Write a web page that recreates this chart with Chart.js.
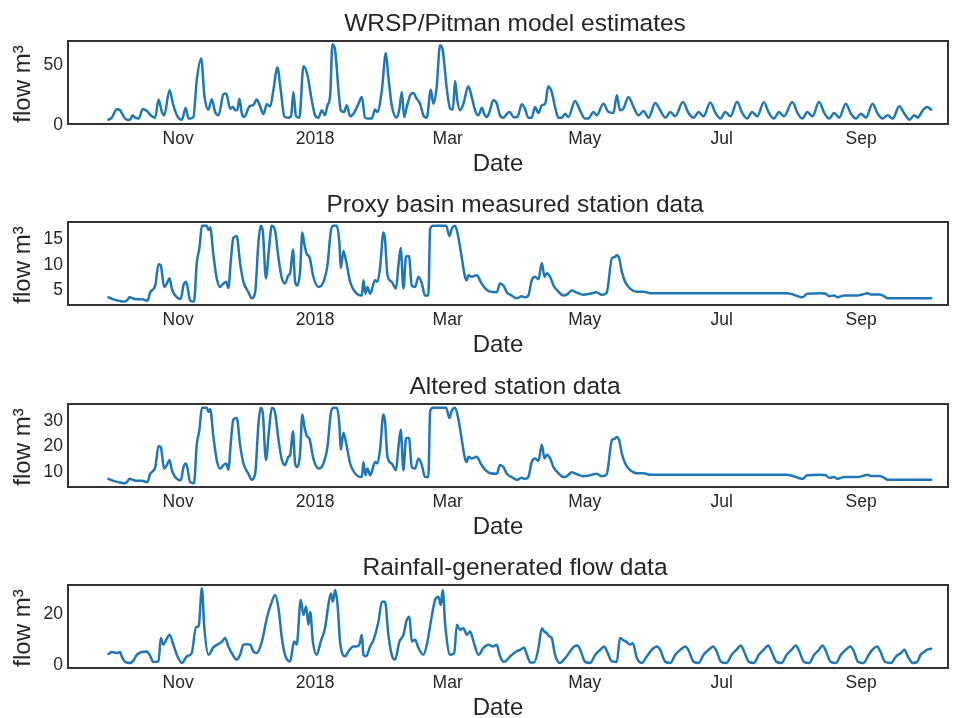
<!DOCTYPE html>
<html>
<head>
<meta charset="utf-8">
<script src="https://cdn.jsdelivr.net/npm/chart.js@4.4.1/dist/chart.umd.min.js"></script>
<style>
  html, body { margin: 0; padding: 0; background: #ffffff; }
  #wrap { position: relative; width: 960px; height: 718px; overflow: hidden; background: #ffffff; }
  #wrap canvas { position: absolute; left: 0; }
</style>
</head>
<body>
<div id="wrap">
  <canvas id="c0" width="960" height="181" style="top:0px"></canvas>
  <canvas id="c1" width="960" height="181" style="top:181px"></canvas>
  <canvas id="c2" width="960" height="181" style="top:363px"></canvas>
  <canvas id="c3" width="960" height="181" style="top:544px"></canvas>
</div>
<script>
// ---- x axis: days since 1 Oct 2017 ----
const monthTickDays = [31, 92, 151, 212, 273, 335];
const monthTickLabels = ['Nov', '2018', 'Mar', 'May', 'Jul', 'Sep'];

const panelTitles = [
  'WRSP/Pitman model estimates',
  'Proxy basin measured station data',
  'Altered station data',
  'Rainfall-generated flow data'
];
const xAxisTitle = 'Date';
const yAxisTitle = 'flow m³';

// ---- WRSP/Pitman model estimates ----
const wrspDays = [
  0, 1.5, 3.7, 5.2, 6.7, 8.2, 9.7, 10.7, 11.9, 13.4,
  15.3, 17.1, 19.3, 20.8, 22.3, 23.8, 24.8, 27.2, 28.9, 30.7,
  32.7, 34.4, 35.6, 37.8, 39.3, 41.3, 42.7, 44.5, 46, 47.5,
  49, 51.2, 52.4, 54.2, 55.4, 56.4, 57.4, 58.3, 59.4, 60.4,
  62.8, 64.5, 66, 67.5, 69, 70.5, 72, 73.4, 75.2, 76.7,
  78.3, 80.1, 81.3, 82.3, 83.5, 85, 86.8, 88.6, 90.5, 92,
  93.5, 95, 96.4, 97.5, 98.7, 99.7, 100.9, 102.4, 103.4, 104.9,
  106.1, 107.6, 109.3, 111.3, 112.8, 114.2, 115.7, 117.2, 118.7, 119.7,
  121.7, 123.5, 124.6, 126.1, 128.3, 129.4, 130.6, 131.6, 132.8, 134.3,
  135.7, 137.2, 138.7, 140.2, 141.7, 143.5, 144.6, 146.1, 147.6, 148.8,
  150.6, 152.1, 153.3, 154.3, 155.3, 156.5, 158, 160.2, 161.7, 163.2,
  164.7, 166.2, 167.2, 168.4, 169.6, 171.3, 172.9, 174.3, 175.8, 177.3,
  178.5, 180.5, 182, 184, 185.4, 186.9, 188.4, 189.9, 191.4, 192.9,
  194.4, 195.8, 197.3, 198.8, 200.3, 201.8, 203.3, 204.7, 207.7, 209.9,
  212.2, 213.6, 215.9, 217.3, 220.3, 222.6, 224.8, 226.3, 227.7, 229.2,
  231.5, 233.7, 235.9, 238.2, 240.4, 243.4, 245.6, 247.9, 250.1, 252.3,
  255.7, 258.2, 260.5, 262.7, 264.9, 267.9, 270.2, 272.4, 274.6, 276.9,
  279.8, 282.1, 284.3, 286.5, 288.8, 291.7, 294, 296.2, 298.5, 300.7,
  304.4, 306.7, 308.9, 311.1, 313.4, 316.3, 318.6, 320.8, 323, 325.3,
  328.2, 330.5, 332.7, 334.9, 337.2, 340.1, 342.4, 344.6, 346.8, 349.1,
  352, 354.3, 356.5, 358.7, 360.2, 362.5, 364.4, 366.2
];
const wrspFlow = [
  3.3, 5, 11.9, 11.1, 6.1, 3.3, 3.3, 6.9, 5, 4.2,
  12.2, 10.5, 6.1, 5, 20, 9.7, 6.9, 27.7, 15.3, 6.1,
  3.3, 13.3, 4.2, 5.5, 36, 54.2, 23.6, 11.7, 20.3, 9.7,
  6.9, 24.4, 25, 12.5, 13.9, 11.1, 11.7, 20.8, 8.3, 5.5,
  14.4, 15.5, 20, 14.4, 7.8, 16.1, 14.4, 27.7, 46.7, 27.7,
  6.1, 5, 6.1, 26.4, 6.1, 5, 47.8, 40.3, 19.4, 6.9,
  5, 11.1, 6.9, 15.3, 23.6, 66.1, 61.1, 27.7, 11.1, 9.7,
  15.3, 6.1, 8.9, 16.6, 22.2, 5, 4.2, 4.2, 11.7, 9.7,
  27.7, 58.9, 38.9, 15.3, 5, 11.1, 26.4, 5.5, 13.9, 23.6,
  25.6, 20.8, 16.6, 6.9, 5, 28.3, 16.6, 30.5, 65.3, 61.1,
  29.1, 12.5, 11.7, 35.5, 19.4, 11.1, 16.6, 31.1, 22.2, 11.1,
  6.9, 13.3, 8.3, 5.5, 9.7, 19.4, 16.6, 6.9, 5, 8,
  9.7, 5.3, 5.5, 16.1, 12.5, 5, 5, 13.9, 8.9, 15.3,
  16.6, 31.1, 26.4, 13.9, 5, 5, 8.3, 5.5, 18.9, 11.1,
  4.2, 4.2, 9.7, 6.9, 16.6, 9.7, 8.9, 23.6, 11.1, 12.5,
  22.2, 13.9, 6.9, 10.5, 5, 17.2, 11.1, 5, 9.7, 6.1,
  18, 8.9, 5, 9.7, 6.1, 17.6, 8.9, 4.2, 9.7, 6.1,
  18.2, 8.9, 4.2, 9.7, 6.1, 17.8, 8.9, 4.2, 9.7, 6.1,
  18, 8.9, 4.2, 9.7, 6.1, 18, 8.9, 4.2, 8.9, 5,
  16.6, 8.3, 4.2, 8.3, 5, 16.6, 8.3, 4.2, 6.9, 4.2,
  14.4, 8.3, 3.3, 6.9, 5, 11.1, 13.9, 11.7
];
const wrspYTicks = [0, 50];

// ---- Proxy basin measured station data (days shared with altered data) ----
const stationDays = [
  0, 2.2, 4.5, 6.7, 8.2, 9.4, 10.9, 12.6, 14.9, 17.4,
  18.6, 20.8, 22.3, 23.3, 24.8, 26, 27.2, 28.2, 29.7, 31.2,
  32.2, 33.4, 34.6, 36.4, 38.1, 39.3, 40.5, 41.6, 43.8, 44.5,
  45.3, 46.7, 48.2, 49.7, 51.2, 52.4, 53.4, 54.5, 55.6, 57.1,
  58.6, 60.1, 62.3, 63.8, 65.3, 66.8, 67.8, 68.7, 70.1, 71.5,
  72.7, 74.2, 75.7, 77.2, 78.6, 80.1, 80.9, 82.1, 83.1, 84.1,
  85.3, 86.3, 87.2, 88.3, 89.5, 91.2, 93.5, 95.7, 97.5, 99,
  100.1, 101.6, 102.8, 103.4, 104.6, 105.8, 107.6, 110.5, 112.8, 113.5,
  114.4, 115.3, 116.5, 118.7, 119.7, 120.9, 122.4, 123.1, 124.2, 126.1,
  128, 129.1, 130.1, 131.3, 132.5, 133.8, 135, 136.5, 138, 139.5,
  140.9, 142.4, 143.2, 144.6, 150.3, 151.8, 152.8, 154.3, 155.8, 157.3,
  158.7, 159.5, 160.2, 161.7, 164, 165.7, 167.6, 169.9, 172.9, 174.3,
  175.8, 177.3, 179.5, 181.7, 184, 185.4, 186.9, 188.4, 189.9, 191.4,
  192.9, 194.1, 195.1, 196.6, 198.1, 200.3, 202.5, 204, 206.2, 208.5,
  211.4, 214.4, 217.3, 219.6, 221.8, 224.1, 225.2, 226.3, 227.3, 228.5,
  230, 232.2, 235.2, 238.2, 241.1, 302, 305, 308.9, 311.1, 317.1,
  319.3, 320.8, 323, 324.5, 327.5, 330.5, 333.4, 335.7, 337.9, 339.4,
  343.1, 345.4, 346.8, 366.2
];
const proxyFlow = [
  3.4, 3.0, 2.75, 2.56, 2.75, 3.4, 3.2, 3.0, 3.0, 2.75,
  4.4, 5.6, 9.85, 9.6, 5.4, 6.1, 7.1, 5.1, 3.75, 3.2,
  3.1, 5.7, 6.4, 2.75, 2.56, 10.05, 13.0, 17.3, 17.3, 16.5,
  17.0, 11.7, 7.1, 5.4, 6.1, 6.4, 5.2, 10.7, 15.0, 15.3,
  10.05, 6.4, 4.4, 3.2, 4.4, 14.3, 17.3, 16.3, 7.1, 13.0,
  17.3, 16.3, 11.0, 7.1, 6.1, 7.7, 8.1, 12.7, 6.4, 5.7,
  8.4, 16.0, 13.7, 11.8, 11.2, 7.4, 5.4, 6.4, 9.7, 16.3,
  17.3, 17.3, 14.0, 9.1, 12.4, 10.4, 6.4, 4.1, 3.75, 6.7,
  4.1, 5.4, 4.1, 6.7, 6.4, 9.1, 16.0, 14.7, 7.7, 6.4,
  5.1, 9.7, 13.0, 5.1, 11.4, 11.4, 5.7, 5.4, 7.4, 6.1,
  3.75, 3.75, 16.7, 17.3, 17.3, 15.3, 16.7, 17.3, 15.0, 11.0,
  7.4, 6.7, 7.7, 7.4, 7.7, 6.4, 5.2, 4.5, 4.4, 6.1,
  5.7, 4.4, 3.75, 3.2, 3.6, 3.4, 3.75, 6.7, 7.4, 6.9,
  10.05, 7.4, 8.1, 7.4, 5.7, 4.5, 3.75, 3.9, 4.7, 4.3,
  3.9, 4.1, 4.4, 3.9, 4.3, 11.0, 11.2, 11.6, 11.0, 8.4,
  6.4, 5.1, 4.5, 4.5, 4.2, 4.2, 3.9, 3.4, 4.1, 4.2,
  4.1, 3.6, 3.75, 3.4, 3.75, 3.75, 3.75, 3.95, 4.2, 3.95,
  3.95, 3.6, 3.2, 3.2
];
const proxyYTicks = [5, 10, 15];

// ---- Altered station data ----
const alteredFlow = [
  6.8, 6.0, 5.5, 5.1, 5.5, 6.8, 6.4, 6.0, 6.0, 5.5,
  8.8, 11.2, 19.7, 19.2, 10.8, 12.2, 14.2, 10.2, 7.5, 6.4,
  6.2, 11.4, 12.8, 5.5, 5.1, 20.1, 26.0, 34.6, 34.6, 33.0,
  34.0, 23.4, 14.2, 10.8, 12.2, 12.8, 10.4, 21.4, 30.0, 30.6,
  20.1, 12.8, 8.8, 6.4, 8.8, 28.6, 34.6, 32.6, 14.2, 26.0,
  34.6, 32.6, 22.0, 14.2, 12.2, 15.4, 16.2, 25.4, 12.8, 11.4,
  16.8, 32.0, 27.4, 23.6, 22.4, 14.8, 10.8, 12.8, 19.4, 32.6,
  34.6, 34.6, 28.0, 18.2, 24.8, 20.8, 12.8, 8.2, 7.5, 13.4,
  8.2, 10.8, 8.2, 13.4, 12.8, 18.2, 32.0, 29.4, 15.4, 12.8,
  10.2, 19.4, 26.0, 10.2, 22.8, 22.8, 11.4, 10.8, 14.8, 12.2,
  7.5, 7.5, 33.4, 34.6, 34.6, 30.6, 33.4, 34.6, 30.0, 22.0,
  14.8, 13.4, 15.4, 14.8, 15.4, 12.8, 10.4, 9.0, 8.8, 12.2,
  11.4, 8.8, 7.5, 6.4, 7.2, 6.8, 7.5, 13.4, 14.8, 13.8,
  20.1, 14.8, 16.2, 14.8, 11.4, 9.0, 7.5, 7.8, 9.4, 8.6,
  7.8, 8.2, 8.8, 7.8, 8.6, 22.0, 22.4, 23.2, 22.0, 16.8,
  12.8, 10.2, 9.0, 9.0, 8.4, 8.4, 7.8, 6.8, 8.2, 8.4,
  8.2, 7.2, 7.5, 6.8, 7.5, 7.5, 7.5, 7.9, 8.4, 7.9,
  7.9, 7.2, 6.4, 6.4
];
const alteredYTicks = [10, 20, 30];

// ---- Rainfall-generated flow data ----
const rainDays = [
  0, 1.5, 3.7, 5.2, 5.9, 7.4, 9.7, 11.1, 12.6, 14.9,
  17.1, 18.3, 20, 22.3, 23.3, 24.5, 25.7, 27.2, 28.9, 30.7,
  32.7, 34.9, 37.1, 39, 40.1, 41.6, 42.7, 44.5, 46.7, 48.5,
  50.5, 51.9, 53.4, 54.9, 57.1, 58.6, 60.1, 61.6, 63.1, 64.5,
  66, 68.3, 70.5, 72.7, 74.2, 75.7, 77.2, 78.6, 80.9, 82.6,
  83.8, 85.6, 86.8, 88, 89, 89.8, 91, 92.7, 94.5, 96.4,
  97.9, 99, 99.9, 100.9, 102, 103.1, 105.4, 106.8, 109.1, 110.5,
  111.7, 112.8, 113.5, 114.7, 116.5, 118, 120.2, 121.7, 123.1, 124.6,
  126.1, 127.6, 129.5, 131.3, 132.8, 134, 135, 136.5, 138, 140.2,
  142, 143.5, 145.4, 146.9, 147.9, 148.8, 149.9, 152.1, 153.9, 155.1,
  156.5, 158, 159.5, 161, 162.5, 164.7, 166.9, 169.1, 171.3, 172.8,
  174.3, 176, 179, 181.5, 183.5, 185, 186, 187.8, 189.5, 191.4, 192.9,
  193.9, 195.1, 196.3, 197.3, 198.8, 201, 203.3, 205.5, 207.3, 208.8,
  210, 212.2, 214.4, 216.7, 218.9, 220.7, 221.8, 224.1, 226.3, 227.7,
  228.9, 230.4, 232.2, 233.4, 235.2, 237.4, 239.7, 241.9, 244.1, 245.6,
  247.9, 250.1, 252.3, 254.6, 256.8, 258.3, 260.5, 262.7, 264.9, 267.2,
  269.1, 270.6, 272.7, 275.1, 277.4, 279.6, 281.4, 282.8, 285.1, 287.3,
  289.5, 291.7, 293.7, 295, 297.4, 299.6, 301.9, 304.1, 305.9, 307.4,
  309.6, 311.9, 314.1, 316.3, 317.8, 319.3, 321.5, 323.8, 326, 328.2,
  330.2, 331.7, 333.7, 336.1, 338.4, 340.1, 342.1, 343.6, 345.7, 348.3,
  350.6, 352.8, 354.3, 355.8, 358, 360, 361.5, 363.3, 364.4, 366.2
];
const rainFlow = [
  3.8, 4.6, 4.2, 4.6, 2.9, 0.7, 0.3, 1.2, 3.5, 4.6,
  4.8, 3.5, 0.7, 0.9, 10.1, 7.5, 9.4, 11.4, 7.5, 2.9,
  0.3, 2.9, 4.2, 14.6, 14.6, 29.7, 14, 3.5, 6.4, 7.5,
  8.7, 10.1, 6.8, 4.2, 1.6, 3.5, 7.5, 7.7, 7.5, 4.8,
  4.2, 8.7, 17.9, 24.4, 27.1, 21.8, 10.1, 3.5, 0.9, 8.7,
  7.5, 25.1, 19.2, 22.5, 15.3, 20.5, 8.7, 3.5, 8.7, 14,
  23.1, 27.7, 24.4, 29, 23.1, 8.7, 2.9, 4.8, 6.8, 6.8,
  7.5, 11.4, 3.5, 2.9, 6.8, 9.4, 16.6, 24.4, 24.4, 11.4,
  3.5, 1.6, 8.7, 11.4, 17.3, 18.5, 8.7, 9.4, 6.2, 3.5,
  8.7, 16.6, 25.1, 26.4, 23.1, 29, 15.3, 3.5, 4.2, 15.3,
  13.3, 14, 11.4, 12.7, 8.7, 3.5, 6.2, 7.5, 6.8, 7.5,
  2.9, 0.7, 3, 4.8, 5.5, 6.4, 4.2, 0.5, 0.5, 6, 14,
  12.7, 12, 10.7, 10.1, 3.5, 0.3, 2.2, 4.8, 6.8, 7.2,
  5.5, 0.7, 0.3, 3.5, 5.5, 6.8, 5.1, 0.9, 0.7, 10.1,
  9.4, 8.7, 7.5, 8.1, 2.2, 0.3, 2.9, 5.5, 6.8, 5.5,
  0.7, 0.3, 3.5, 5.5, 6.8, 5.1, 0.7, 0.3, 3.5, 5.5,
  6.8, 5.1, 0.7, 0.3, 3.5, 5.5, 7.2, 5.1, 0.7, 0.3,
  3.5, 5.5, 7.2, 5.1, 0.7, 0.3, 3.5, 5.5, 7.2, 5.1,
  0.7, 0.3, 3.5, 5.5, 7.2, 5.1, 0.7, 0.3, 3.5, 5.5,
  6.8, 5.1, 0.7, 0.3, 3.5, 5.5, 6.8, 4.8, 0.7, 0.3,
  2.9, 4.2, 5.5, 2.9, 0.3, 0.7, 3.5, 4.8, 5.5, 5.9
];
const rainYTicks = [0, 20];

// ---------------------------------------------------------------
const FONT = "'Liberation Sans', Arial, Helvetica, sans-serif";
const TXT = '#262626';
const LINE = '#1f77b4';

const framePlugin = {
  id: 'frame',
  afterDraw(chart) {
    const { ctx, chartArea: a } = chart;
    ctx.save();
    ctx.strokeStyle = '#333333';
    ctx.lineWidth = 2;
    ctx.strokeRect(a.left, a.top, a.right - a.left, a.bottom - a.top);
    ctx.restore();
  }
};

// subplot title, x-axis title and y-axis title, as canvas text
const panelTextPlugin = {
  id: 'panelText',
  afterDraw(chart, args, opts) {
    const { ctx, chartArea: a } = chart;
    const cx = (a.left + a.right) / 2;
    ctx.save();
    ctx.fillStyle = TXT;
    ctx.textAlign = 'center';
    ctx.textBaseline = 'middle';
    ctx.font = '24.5px ' + FONT;
    ctx.fillText(opts.title, cx + 7, a.top - 17);
    ctx.font = '24px ' + FONT;
    ctx.fillText(xAxisTitle, cx - 10, a.bottom + 40.5);
    ctx.translate(23.5, (a.top + a.bottom) / 2 + 1.5);
    ctx.rotate(-Math.PI / 2);
    ctx.fillText(yAxisTitle, 0, 0);
    ctx.restore();
  }
};

function makePanel(id, title, days, flow, yMin, yMax, yTicks) {
  const pts = days.map((d, i) => ({ x: d, y: flow[i] }));
  return new Chart(document.getElementById(id), {
    type: 'line',
    data: { datasets: [{
      data: pts, borderColor: LINE, borderWidth: 2.5, pointRadius: 0,
      cubicInterpolationMode: 'monotone', fill: false,
      borderJoinStyle: 'round', borderCapStyle: 'round'
    }] },
    options: {
      responsive: false, animation: false, devicePixelRatio: 1,
      events: [],
      layout: { padding: { left: 0, right: 12, top: 41, bottom: 0 } },
      plugins: {
        legend: { display: false },
        tooltip: { enabled: false },
        title: { display: false },
        panelText: { title: title }
      },
      scales: {
        x: {
          type: 'linear', min: -18, max: 373.7,
          grid: { display: false, drawTicks: false },
          border: { display: false },
          afterBuildTicks: s => { s.ticks = monthTickDays.map(v => ({ value: v })); },
          afterFit: s => { s.height = 57; },
          ticks: {
            color: TXT, font: { family: FONT, size: 17.5 }, padding: 5,
            maxRotation: 0, autoSkip: false,
            callback: (v, i) => monthTickLabels[i]
          }
        },
        y: {
          min: yMin, max: yMax,
          grid: { display: false, drawTicks: false },
          border: { display: false },
          afterBuildTicks: s => { s.ticks = yTicks.map(v => ({ value: v })); },
          afterFit: s => { s.width = 68; },
          ticks: { color: TXT, font: { family: FONT, size: 17.5 }, padding: 5, labelOffset: 1.5 }
        }
      }
    },
    plugins: [framePlugin, panelTextPlugin]
  });
}

makePanel('c0', panelTitles[0], wrspDays, wrspFlow, -0.3, 68.8, wrspYTicks);
makePanel('c1', panelTitles[1], stationDays, proxyFlow, 1.9, 18.05, proxyYTicks);
makePanel('c2', panelTitles[2], stationDays, alteredFlow, 3.6, 36.1, alteredYTicks);
makePanel('c3', panelTitles[3], rainDays, rainFlow, -1.7, 31.0, rainYTicks);
</script>
</body>
</html>
